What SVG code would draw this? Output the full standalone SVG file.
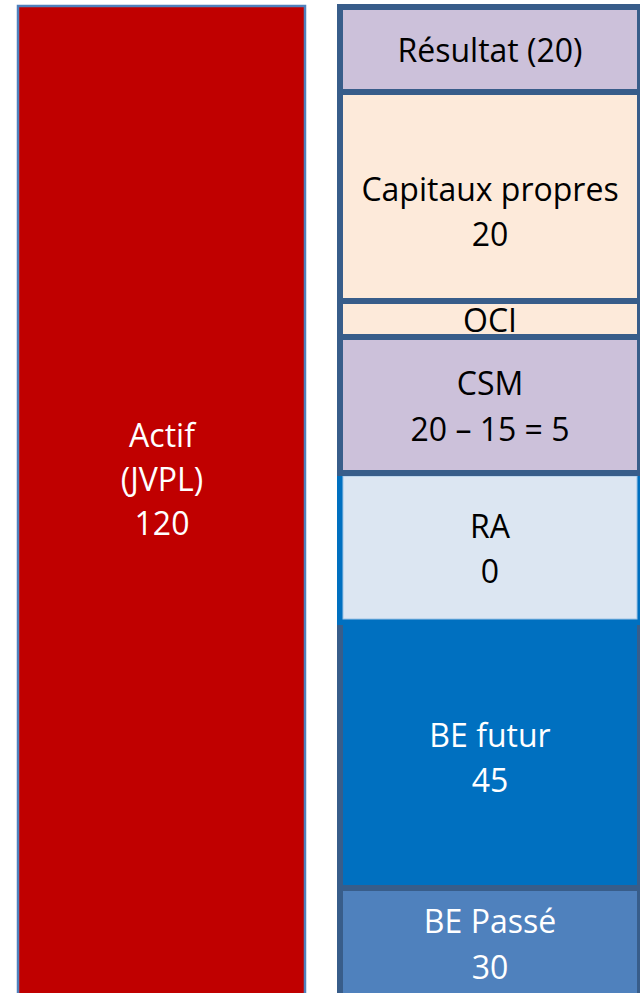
<svg xmlns="http://www.w3.org/2000/svg" width="640" height="993" viewBox="0 0 640 993">
<style>
.t{font-family:"Open Sans","Noto Sans","Liberation Sans",sans-serif;font-size:32px;text-anchor:middle}
.d{fill:#000}
.w{fill:#fff}
.blk{stroke:#385D8A;stroke-width:6}
</style>
<rect width="640" height="993" fill="#fff"/>
<g id="actif">
<rect x="18" y="6" width="287" height="1000" fill="#C00000" stroke="#4F81BD" stroke-width="2.5"/>
<text class="t w" x="162" y="447">Actif</text>
<text class="t w" x="162" y="491">(JVPL)</text>
<text class="t w" x="162" y="535">120</text>
</g>
<g id="be-passe">
<rect x="340" y="888" width="300" height="120" fill="#4F81BD" class="blk"/>
<text class="t w" x="490" y="933">BE Passé</text>
<text class="t w" x="490" y="979">30</text>
</g>
<g id="be-futur">
<rect x="340" y="622" width="300" height="266" fill="#0070C0" class="blk"/>
<text class="t w" x="490" y="747">BE futur</text>
<text class="t w" x="490" y="792">45</text>
</g>
<g id="ra">
<rect x="340" y="473" width="300" height="149" fill="#DCE6F2" stroke="#0070C0" stroke-width="6"/>
<rect x="343" y="476" width="294" height="143" fill="none" stroke="#9DC3E6" stroke-width="1"/>
<text class="t d" x="490" y="538">RA</text>
<text class="t d" x="490" y="583">0</text>
</g>
<g id="csm">
<rect x="340" y="337" width="300" height="136" fill="#CCC1DA" class="blk"/>
<text class="t d" x="490" y="395">CSM</text>
<text class="t d" x="490" y="441">20 – 15 = 5</text>
</g>
<g id="oci">
<rect x="340" y="301" width="300" height="36" fill="#FDEADA" class="blk"/>
<text class="t d" x="490" y="332">OCI</text>
</g>
<g id="capitaux">
<rect x="340" y="92" width="300" height="209" fill="#FDEADA" class="blk"/>
<text class="t d" x="490" y="201">Capitaux propres</text>
<text class="t d" x="490" y="246">20</text>
</g>
<g id="resultat">
<rect x="340" y="7" width="300" height="85" fill="#CCC1DA" class="blk"/>
<text class="t d" x="490" y="62">Résultat (20)</text>
</g>
</svg>
